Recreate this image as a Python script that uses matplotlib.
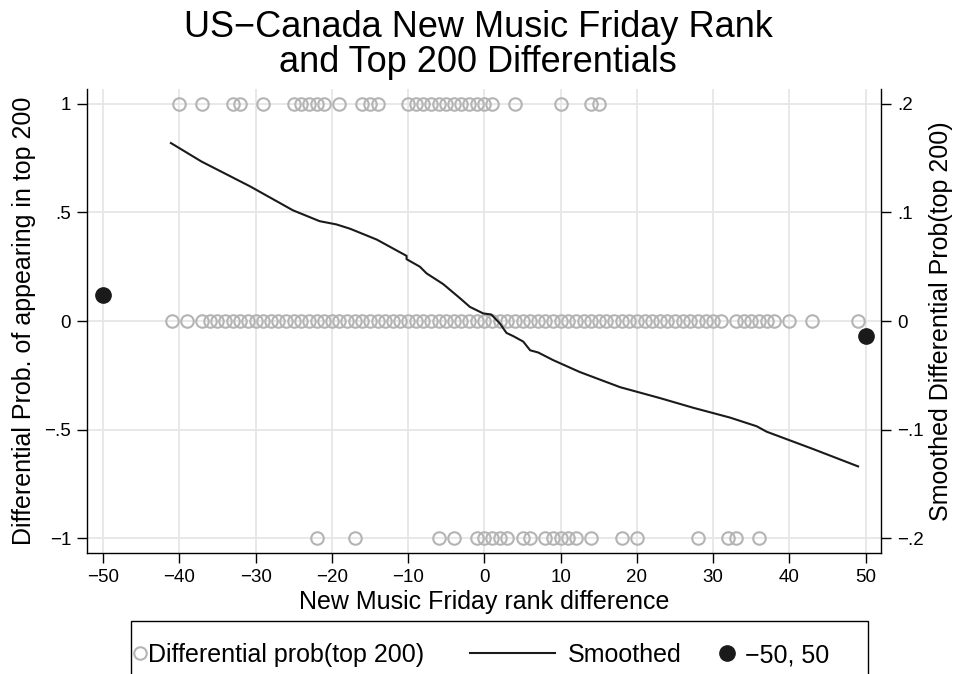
import matplotlib
matplotlib.use("Agg")
import matplotlib.pyplot as plt
from matplotlib.legend_handler import HandlerLine2D
from matplotlib.patches import Rectangle

plt.rcParams['font.family'] = ['Liberation Sans', 'DejaVu Sans']
plt.rcParams['axes.unicode_minus'] = True

# rank difference where the top-200 differential is +1, 0 and -1
x_plus = [-40, -37, -33, -32, -29, -25, -24, -23, -22, -21, -19, -16, -15, -14,
          -10, -9, -8, -7, -6, -5, -4, -3, -2, -1, 0, 1, 4, 10, 14, 15]
x_zero = [-41, -39, -37, -36, -35, -34, -33, -32, -31, -30, -29, -28, -27, -26,
          -25, -24, -23, -22, -21, -20, -19, -18, -17, -16, -15, -14, -13, -12,
          -11, -10, -9, -8, -7, -6, -5, -4, -3, -2, -1, 0, 1, 2, 3, 4, 5, 6, 7,
          8, 9, 10, 11, 12, 13, 14, 15, 16, 17, 18, 19, 20, 21, 22, 23, 24, 25,
          26, 27, 28, 29, 30, 31, 33, 34, 35, 36, 37, 38, 40, 43, 49]
x_minus = [-22, -17, -6, -4, -1, 0, 1, 2, 3, 5, 6, 8, 9, 10, 11, 12, 14, 18, 20,
           28, 32, 33, 36]

# smoothed differential prob (right axis)
smooth_x = [-41.1, -37.1, -30.7, -25.1, -21.6, -19.4, -17.6, -14.1, -10.2, -10.2,
            -8.45, -7.6, -5.4, -3.2, -1.9, -0.16, 0.9, 2.0, 2.9, 3.8, 5.1, 6.0,
            7.05, 9.0, 12.5, 17.8, 23.0, 27.4, 32.2, 35.7, 37.0, 43.1, 49.0]
smooth_y = [0.164, 0.147, 0.124, 0.102, 0.092, 0.089, 0.085, 0.075, 0.060, 0.057,
            0.050, 0.044, 0.034, 0.021, 0.013, 0.007, 0.006, -0.002, -0.011,
            -0.014, -0.019, -0.027, -0.029, -0.036, -0.047, -0.061, -0.071,
            -0.080, -0.089, -0.097, -0.102, -0.118, -0.134]

# the -50 / 50 end points
end_x = [-50, 50]
end_y = [0.024, -0.014]

xticks = [-50, -40, -30, -20, -10, 0, 10, 20, 30, 40, 50]
xtick_labels = ['\u221250', '\u221240', '\u221230', '\u221220', '\u221210', '0',
                '10', '20', '30', '40', '50']
yticks_l = [-1, -0.5, 0, 0.5, 1]
ytick_labels_l = ['\u22121', '\u2212.5', '0', '.5', '1']
yticks_r = [-0.2, -0.1, 0, 0.1, 0.2]
ytick_labels_r = ['\u2212.2', '\u2212.1', '0', '.1', '.2']

gray = '#b4b4b4'
dark = '#1a1a1a'
grid_c = '#e6e6e6'

W, H = 956, 674
fig = plt.figure(figsize=(W / 100, H / 100), dpi=100)
ax = fig.add_axes([87 / W, 1 - 553 / H, (881 - 87) / W, (553 - 89) / H])
ax2 = ax.twinx()

ax.set_xlim(-52.1, 52.0)
ax.set_ylim(-1.069, 1.069)
ax2.set_ylim(-0.2138, 0.2138)

for xv in xticks:
    ax.axvline(xv, color=grid_c, lw=1.3, zorder=0)
for yv in yticks_l:
    ax.axhline(yv, color=grid_c, lw=1.3, zorder=0)

circ_kw = dict(ls='none', marker='o', ms=9, mfc='none', mec=gray, mew=1.5)
h_circ, = ax.plot(x_plus, [1] * len(x_plus), **circ_kw)
ax.plot(x_zero, [0] * len(x_zero), **circ_kw)
ax.plot(x_minus, [-1] * len(x_minus), **circ_kw)

h_line, = ax2.plot(smooth_x, smooth_y, color=dark, lw=1.5)
h_dot, = ax2.plot(end_x, end_y, ls='none', marker='o', ms=11, color=dark)

ax.set_xticks(xticks)
ax.set_xticklabels(xtick_labels)
ax.set_yticks(yticks_l)
ax.set_yticklabels(ytick_labels_l)
ax2.set_yticks(yticks_r)
ax2.set_yticklabels(ytick_labels_r)

for a in (ax, ax2):
    a.spines['top'].set_visible(False)
    for s in a.spines.values():
        s.set_linewidth(1.0)
        s.set_color('black')
    a.tick_params(direction='out', length=7, width=1.0, labelsize=13.5, pad=4.5)
ax.spines['right'].set_visible(False)
ax2.spines['left'].set_visible(False)
ax2.spines['bottom'].set_visible(False)

ax.set_xlabel('New Music Friday rank difference', fontsize=18, labelpad=3)
ax.set_ylabel('Differential Prob. of appearing in top 200', fontsize=18)
ax2.set_ylabel('Smoothed Differential Prob(top 200)', fontsize=18)
ax.yaxis.set_label_coords((36 - 87) / (881 - 87), 0.5)
ax2.yaxis.set_label_coords((929 - 87) / (881 - 87), 0.5)

fig.suptitle('US\u2212Canada New Music Friday Rank\nand Top 200 Differentials',
             fontsize=26, y=1 - 10 / H, va='top', linespacing=1.0)


class KeyHandler(HandlerLine2D):
    """legend key with its own width: blank lead, key, blank trail"""

    def __init__(self, lead, key, trail):
        super().__init__(numpoints=1)
        self.lead, self.key, self.trail = lead, key, trail

    def legend_artist(self, legend, orig_handle, fontsize, handlebox):
        handlebox.width = (self.lead + self.key + self.trail) * fontsize
        return super().legend_artist(legend, orig_handle, fontsize, handlebox)

    def create_artists(self, legend, orig_handle, xdescent, ydescent, width,
                       height, fontsize, trans):
        return super().create_artists(legend, orig_handle,
                                      xdescent - self.lead * fontsize, ydescent,
                                      self.key * fontsize, height, fontsize, trans)


leg = fig.legend([h_circ, h_line, h_dot],
                 ['Differential prob(top 200)', 'Smoothed', '\u221250, 50'],
                 handler_map={h_circ: KeyHandler(0, 0.48, 0),
                              h_line: KeyHandler(1.04, 3.4, 0.44),
                              h_dot: KeyHandler(0.76, 0.48, 0.4)},
                 ncol=3, loc='center left', bbox_to_anchor=(134 / W, 1 - 655 / H),
                 borderaxespad=0, fontsize=18, handletextpad=0.08,
                 columnspacing=0.8, borderpad=0, frameon=False)

# legend frame, runs off the bottom edge like the original
fig.patches.append(Rectangle((131 / W, 1 - 690 / H), (868 - 131) / W, (690 - 621) / H,
                             transform=fig.transFigure, fill=False,
                             edgecolor='black', lw=1.0))

fig.savefig('out.png', dpi=100)
